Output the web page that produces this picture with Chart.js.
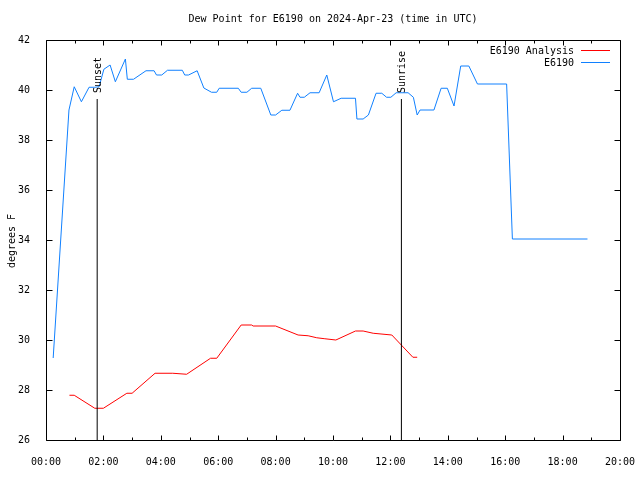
<!DOCTYPE html>
<html>
<head>
<meta charset="utf-8">
<script src="https://cdn.jsdelivr.net/npm/chart.js@4"></script>
<style>
  html, body { margin: 0; padding: 0; background: #fff; }
  canvas { display: block; }
</style>
</head>
<body>
<canvas id="chart" width="640" height="480"></canvas>
<script>
// Chart data (time in minutes after 00:00 UTC)
const chartTitle = "Dew Point for E6190 on 2024-Apr-23 (time in UTC)";
const yAxisLabel = "degrees F";

const analysisLabel = "E6190 Analysis";
const analysisTimes = [49, 59, 102, 120, 169, 180, 228, 265, 294, 344, 357, 408, 430, 433, 480, 527, 548, 566, 583, 606, 647, 663, 684, 723, 767, 776];
const analysisValues = [27.79, 27.79, 27.27, 27.27, 27.87, 27.87, 28.67, 28.67, 28.63, 29.27, 29.27, 30.6, 30.6, 30.56, 30.56, 30.2, 30.17, 30.09, 30.05, 30.0, 30.36, 30.36, 30.27, 30.2, 29.31, 29.31];

const stationLabel = "E6190";
const stationTimes = [15, 48, 59, 74, 90, 102, 111, 121, 134, 145, 166, 170, 183, 209, 226, 231, 242, 254, 285, 290, 298, 316, 330, 346, 357, 362, 402, 408, 420, 430, 449, 470, 480, 493, 510, 526, 531, 540, 552, 571, 587, 601, 617, 647, 650, 663, 674, 690, 702, 712, 721, 732, 757, 768, 776, 782, 811, 826, 839, 853, 867, 884, 902, 963, 975, 1132];
const stationValues = [29.28, 39.2, 40.13, 39.53, 40.11, 40.11, 40.13, 40.83, 41.0, 40.33, 41.24, 40.43, 40.43, 40.77, 40.77, 40.6, 40.6, 40.79, 40.79, 40.6, 40.6, 40.77, 40.08, 39.91, 39.91, 40.07, 40.07, 39.91, 39.91, 40.07, 40.07, 39.0, 39.0, 39.19, 39.19, 39.87, 39.71, 39.71, 39.89, 39.89, 40.6, 39.53, 39.67, 39.67, 38.84, 38.84, 39.0, 39.87, 39.87, 39.71, 39.71, 39.89, 39.89, 39.71, 39.0, 39.2, 39.2, 40.07, 40.07, 39.36, 40.96, 40.96, 40.24, 40.24, 34.04, 34.04];

const sunLabels = ["Sunset", "Sunrise"];
const sunTimes = [107, 743];
const sunLineTop = 39.64;

const xMin = 0, xMax = 1200, xStep = 60;
const yMin = 26, yMax = 42, yStep = 2;

const FONT = "10px 'DejaVu Sans Mono', monospace";

function toPoints(times, values) {
  return times.map((t, i) => ({ x: t, y: values[i] }));
}

function hhmm(v) {
  const h = Math.floor(v / 60), m = v % 60;
  return String(h).padStart(2, "0") + ":" + String(m).padStart(2, "0");
}

// Sunset / sunrise markers as plain two point lines
const sunDatasets = sunTimes.map((t, i) => ({
  label: sunLabels[i],
  data: [{ x: t, y: yMin }, { x: t, y: sunLineTop }],
  borderColor: "#000",
  borderWidth: 1,
  pointRadius: 0,
  isMarker: true
}));

// Draws gnuplot style frame, inward ticks, title, legend and marker labels
const gnuplotLook = {
  id: "gnuplotLook",
  afterDraw(chart) {
    const ctx = chart.ctx;
    const area = chart.chartArea;
    const xs = chart.scales.x, ys = chart.scales.y;
    const L = Math.round(area.left) + 0.5, R = Math.round(area.right) + 0.5;
    const T = Math.round(area.top) + 0.5, B = Math.round(area.bottom) + 0.5;

    ctx.save();
    ctx.strokeStyle = "#000";
    ctx.lineWidth = 1;
    ctx.beginPath();
    ctx.rect(L, T, R - L, B - T);

    xs.ticks.forEach(tk => {
      const px = Math.round(xs.getPixelForValue(tk.value)) + 0.5;
      const len = tk.value % 120 === 0 ? 5 : 3;
      ctx.moveTo(px, B); ctx.lineTo(px, B - len);
      ctx.moveTo(px, T); ctx.lineTo(px, T + len);
    });
    ys.ticks.forEach(tk => {
      const py = Math.round(ys.getPixelForValue(tk.value)) + 0.5;
      ctx.moveTo(L, py); ctx.lineTo(L + 6, py);
      ctx.moveTo(R, py); ctx.lineTo(R - 6, py);
    });
    ctx.stroke();

    ctx.fillStyle = "#000";
    ctx.font = FONT;

    // Title
    ctx.textAlign = "center";
    ctx.textBaseline = "middle";
    ctx.fillText(chartTitle, (area.left + area.right) / 2, 19);

    // Y axis label
    ctx.save();
    ctx.translate(12, (area.top + area.bottom) / 2 + 1);
    ctx.rotate(-Math.PI / 2);
    ctx.fillText(yAxisLabel, 0, 0);
    ctx.restore();

    // Legend, text on the left, line sample on the right
    const legendSets = chart.data.datasets.filter(d => !d.isMarker);
    legendSets.forEach((d, i) => {
      const y = 51 + i * 12;
      ctx.textAlign = "right";
      ctx.fillText(d.label, 574, y);
      ctx.strokeStyle = d.borderColor;
      ctx.beginPath();
      ctx.moveTo(581, y - 0.5);
      ctx.lineTo(610, y - 0.5);
      ctx.stroke();
    });

    // Sunset / sunrise labels
    sunTimes.forEach((t, i) => {
      const px = xs.getPixelForValue(t);
      const top = ys.getPixelForValue(sunLineTop);
      ctx.save();
      ctx.translate(px + 1, top - 6);
      ctx.rotate(-Math.PI / 2);
      ctx.textAlign = "left";
      ctx.textBaseline = "middle";
      ctx.fillText(sunLabels[i], 0, 0);
      ctx.restore();
    });
    ctx.restore();
  }
};

const ctx = document.getElementById("chart").getContext("2d");
new Chart(ctx, {
  type: "line",
  data: {
    datasets: [
      ...sunDatasets,
      {
        label: analysisLabel,
        data: toPoints(analysisTimes, analysisValues),
        borderColor: "#ff0000",
        borderWidth: 1,
        pointRadius: 0,
        tension: 0
      },
      {
        label: stationLabel,
        data: toPoints(stationTimes, stationValues),
        borderColor: "#1080ff",
        borderWidth: 1,
        pointRadius: 0,
        tension: 0
      }
    ]
  },
  options: {
    responsive: false,
    animation: false,
    layout: { padding: { top: 40, right: 20, left: 0, bottom: 0 } },
    plugins: {
      legend: { display: false },
      title: { display: false },
      tooltip: { enabled: false }
    },
    scales: {
      x: {
        type: "linear",
        min: xMin,
        max: xMax,
        grid: { display: false },
        border: { display: false },
        afterFit(scale) {
          scale.height = 40;
          scale.paddingLeft = 0;
          scale.paddingRight = 0;
        },
        ticks: {
          stepSize: xStep,
          autoSkip: false,
          maxRotation: 0,
          padding: 8,
          color: "#000",
          font: { family: "'DejaVu Sans Mono', monospace", size: 10 },
          callback: v => (v % 120 === 0 ? hhmm(v) : "")
        }
      },
      y: {
        min: yMin,
        max: yMax,
        grid: { display: false },
        border: { display: false },
        afterFit(scale) { scale.width = 46; },
        ticks: {
          stepSize: yStep,
          padding: 8,
          color: "#000",
          font: { family: "'DejaVu Sans Mono', monospace", size: 10 }
        }
      }
    }
  },
  plugins: [gnuplotLook]
});
</script>
</body>
</html>
